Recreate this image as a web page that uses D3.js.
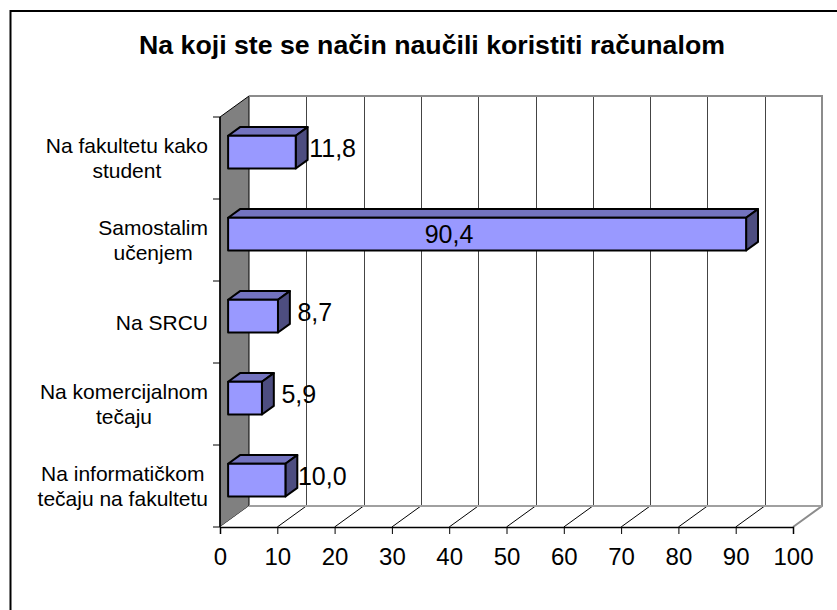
<!DOCTYPE html>
<html>
<head>
<meta charset="utf-8">
<style>
body { margin: 0; background: #fff; }
text { font-family: 'Liberation Sans', Arial, sans-serif; fill: #000; }
.title { font-size: 26.7px; font-weight: bold; }
.cat { font-size: 21px; }
.val { font-size: 25px; }
.x-axis text { font-size: 24px; font-family: 'Liberation Sans', Arial, sans-serif; }
</style>
</head>
<body>
<div id="chart"></div>
<script src="https://cdn.jsdelivr.net/npm/d3@7"></script>
<script>
// data
var categories = ['Na fakultetu kako student', 'Samostalim učenjem', 'Na SRCU', 'Na komercijalnom tečaju', 'Na informatičkom tečaju na fakultetu']
var categoryLines = [
  ['Na fakultetu kako', 'student'],
  ['Samostalim', 'učenjem'],
  ['Na SRCU'],
  ['Na komercijalnom', 'tečaju'],
  ['Na informatičkom', 'tečaju na fakultetu']
]
var values = [11.8, 90.4, 8.7, 5.9, 10.0]
var tickValues = [0, 10, 20, 30, 40, 50, 60, 70, 80, 90, 100]
var title = 'Na koji ste se način naučili koristiti računalom'

var width = 837
var height = 610

// front plane of the plot and 3d depth
var plot = { left: 220, right: 793, top: 117, bottom: 527 }
var depth = { dx: 29, dy: -21 }
var barDepth = [0.28, 0.69]

var svg = d3.select('#chart')
  .append('svg')
  .attr('width', width)
  .attr('height', height)

// outer frame
svg.append('rect')
  .attr('x', 10.5)
  .attr('y', 11)
  .attr('width', 900)
  .attr('height', 700)
  .attr('fill', 'none')
  .attr('stroke', '#000')
  .attr('stroke-width', 2)

svg.append('text')
  .attr('class', 'title')
  .attr('x', 432)
  .attr('y', 54)
  .attr('text-anchor', 'middle')
  .text(title)

var xScale = d3.scaleLinear()
  .domain([0, 100])
  .range([plot.left, plot.right])

var yScale = d3.scaleBand()
  .domain(categories)
  .range([plot.top, plot.bottom])

function pt(x, y, f) {
  return [x + depth.dx * f, y + depth.dy * f]
}
function poly(points) {
  return points.map(p => p.join(',')).join(' ')
}

// side wall (left)
svg.append('polygon')
  .attr('points', poly([
    [plot.left, plot.top], pt(plot.left, plot.top, 1),
    pt(plot.left, plot.bottom, 1), [plot.left, plot.bottom]
  ]))
  .attr('fill', '#808080')
  .attr('stroke', '#000')
  .attr('stroke-width', 1)

// floor
svg.append('polygon')
  .attr('points', poly([
    [plot.left, plot.bottom], pt(plot.left, plot.bottom, 1),
    pt(plot.right, plot.bottom, 1), [plot.right, plot.bottom]
  ]))
  .attr('fill', '#fff')

// back wall gridlines
svg.append('g')
  .selectAll('line')
  .data(tickValues.filter(v => v > 0 && v < 100))
  .join('line')
  .attr('x1', d => Math.round(xScale(d) + depth.dx) + 0.5)
  .attr('x2', d => Math.round(xScale(d) + depth.dx) + 0.5)
  .attr('y1', plot.top + depth.dy)
  .attr('y2', plot.bottom + depth.dy)
  .attr('stroke', '#444')
  .attr('stroke-width', 1)

// floor diagonals
svg.append('g')
  .selectAll('line')
  .data(tickValues.filter(v => v > 0 && v < 100))
  .join('line')
  .attr('x1', d => xScale(d))
  .attr('y1', plot.bottom)
  .attr('x2', d => xScale(d) + depth.dx)
  .attr('y2', plot.bottom + depth.dy)
  .attr('stroke', '#000')
  .attr('stroke-width', 1)

// back wall / floor edges in gray
var bx0 = plot.left + depth.dx
var bx1 = plot.right + depth.dx
var by0 = plot.top + depth.dy
var by1 = plot.bottom + depth.dy
svg.append('path')
  .attr('d', 'M' + bx0 + ',' + by0 + 'H' + bx1 + 'V' + by1 + 'L' + plot.right + ',' + plot.bottom)
  .attr('fill', 'none')
  .attr('stroke', '#8c8c8c')
  .attr('stroke-width', 2)
svg.append('line')
  .attr('x1', bx0).attr('y1', by1)
  .attr('x2', bx1).attr('y2', by1)
  .attr('stroke', '#a0a0a0')
  .attr('stroke-width', 2)

// x axis (front)
var xAxis = d3.axisBottom(xScale)
  .tickValues(tickValues)
  .tickSize(7)
  .tickPadding(8)
svg.append('g')
  .attr('class', 'axis x-axis')
  .attr('transform', 'translate(0,' + plot.bottom + ')')
  .call(xAxis)
  .call(g => g.select('.domain').attr('stroke', '#000').attr('stroke-width', 1.5))
  .call(g => g.selectAll('.tick line').attr('stroke', '#000'))
  .call(g => g.selectAll('.tick text').attr('fill', '#000').attr('dy', '0.95em'))

// category ticks on the left edge
var bounds = categories.map(c => yScale(c)).concat([plot.bottom])
svg.append('g')
  .selectAll('line')
  .data(bounds)
  .join('line')
  .attr('x1', plot.left - 7)
  .attr('x2', plot.left)
  .attr('y1', d => d)
  .attr('y2', d => d)
  .attr('stroke', '#000')
svg.append('line')
  .attr('x1', plot.left).attr('x2', plot.left)
  .attr('y1', plot.top).attr('y2', plot.bottom)
  .attr('stroke', '#000')
  .attr('stroke-width', 1.5)

// category labels (centered blocks, right aligned)
var lineH = 25
categoryLines.forEach(function(lines, i) {
  var cy = yScale(categories[i]) + yScale.bandwidth() / 2
  var g = svg.append('g')
  var t = g.append('text').attr('class', 'cat').attr('text-anchor', 'middle')
  t.selectAll('tspan')
    .data(lines)
    .join('tspan')
    .attr('x', 0)
    .attr('y', (d, j) => cy + 7.5 - (lines.length - 1) * lineH / 2 + j * lineH)
    .text(d => d)
  var w = t.node().getBBox().width
  g.attr('transform', 'translate(' + (208 - w / 2) + ',0)')
})

// 3d bars
var barH = yScale.bandwidth() * 0.4
var bars = svg.append('g')
values.forEach(function(v, i) {
  var cy = yScale(categories[i]) + yScale.bandwidth() / 2
  var y0 = cy - barH / 2
  var y1 = cy + barH / 2
  var xa = xScale(0)
  var xb = xScale(v)
  var f0 = barDepth[0]
  var f1 = barDepth[1]
  var g = bars.append('g')
  // top face
  g.append('polygon')
    .attr('points', poly([pt(xa, y0, f0), pt(xa, y0, f1), pt(xb, y0, f1), pt(xb, y0, f0)]))
    .attr('fill', '#7373bf')
  // side face
  g.append('polygon')
    .attr('points', poly([pt(xb, y0, f0), pt(xb, y0, f1), pt(xb, y1, f1), pt(xb, y1, f0)]))
    .attr('fill', '#4d4d80')
  // front face
  g.append('polygon')
    .attr('points', poly([pt(xa, y0, f0), pt(xb, y0, f0), pt(xb, y1, f0), pt(xa, y1, f0)]))
    .attr('fill', '#9999ff')
  g.selectAll('polygon')
    .attr('stroke', '#000')
    .attr('stroke-width', 2)
    .attr('stroke-linejoin', 'round')
})

// value labels
var fmt = v => v.toFixed(1).replace('.', ',')
svg.append('g')
  .selectAll('text')
  .data(values)
  .join('text')
  .attr('class', 'val')
  .attr('text-anchor', 'middle')
  .attr('x', d => d > 50 ? (xScale(0) + xScale(d)) / 2 - 30 : xScale(d) + 45)
  .attr('y', (d, i) => yScale(categories[i]) + yScale.bandwidth() / 2 + (d > 50 ? 3 : -1))
  .text(d => fmt(d))
</script>
</body>
</html>
